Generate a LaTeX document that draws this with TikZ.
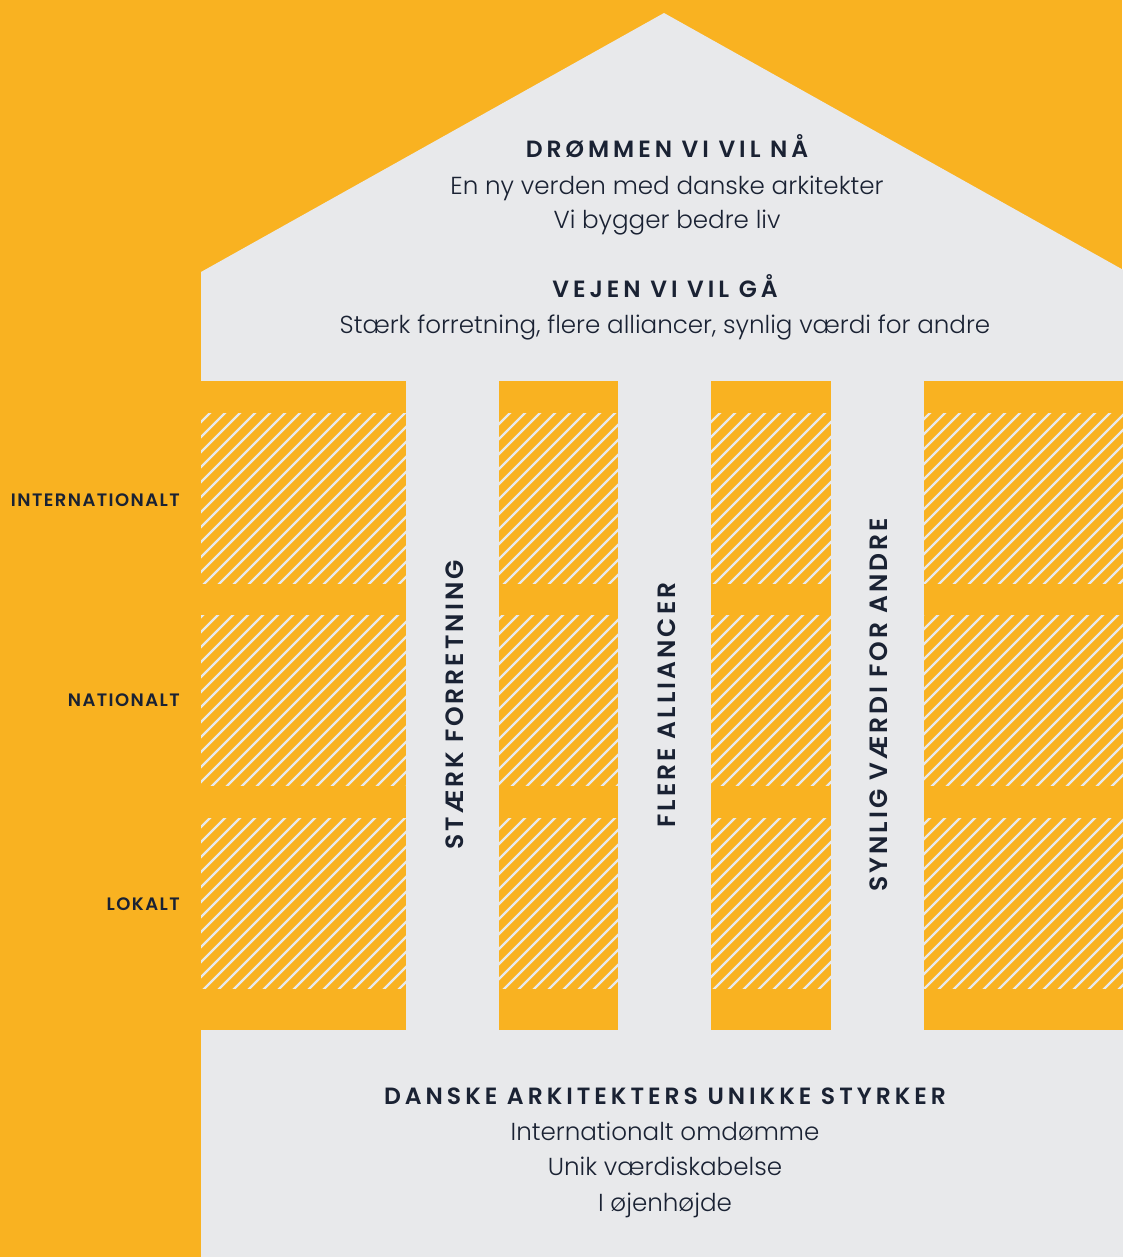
\documentclass[tikz,border=0pt]{standalone}
\usepackage{fontspec}
\setmainfont{Poppins}[UprightFont=* Light, BoldFont=* SemiBold]
\definecolor{orng}{HTML}{F9B221}
\definecolor{lgray}{HTML}{E8E9EB}
\definecolor{ink}{HTML}{1A2233}
\begin{document}
\begin{tikzpicture}[x=1pt,y=-1pt,
  head/.style={text=ink,anchor=base,inner sep=0pt,font=\fontsize{23.5}{27}\selectfont\bfseries\addfontfeatures{LetterSpace=17}},
  body/.style={text=ink,anchor=base,inner sep=0pt,font=\fontsize{24.6}{28}\selectfont},
  side/.style={text=ink,anchor=base east,inner sep=0pt,font=\fontsize{18}{21}\selectfont\bfseries\addfontfeatures{LetterSpace=8}},
  pillar/.style={text=ink,anchor=base,inner sep=0pt,rotate=90,font=\fontsize{25}{28}\selectfont\bfseries\addfontfeatures{LetterSpace=12}},
  block/.style={fill=orng,draw=none},
  hatchline/.style={draw=lgray,line width=2.4pt}]
\useasboundingbox (0,0) rectangle (1122,1257);
\fill[orng] (0,0) rectangle (1122,1257);
% house
\fill[lgray] (201,1257) -- (201,272) -- (664,13) -- (1127,272) -- (1127,1257) -- cycle;
% orange blocks between pillars
\foreach \xa/\xb in {201/406,499/618,711/831,924/1127}{
  \path[block] (\xa,381) rectangle (\xb,1030);
  \foreach \ya/\yb in {413/583,615/785,818/988}{
    \begin{scope}
      \clip (\xa,\ya) rectangle (\xb,\yb);
      \foreach \c in {608,623,...,2123}{
        \draw[hatchline] ({\c-1000},1000) -- ({\c-400},400);
      }
    \end{scope}
  }
}
% top texts
\node[head] (dream) at (667,158) {DRØMMEN VI VIL NÅ};
\node[body] (dream1) at (667,195) {En ny verden med danske arkitekter};
\node[body] (dream2) at (667,229) {Vi bygger bedre liv};
\node[head] (way) at (665,297) {VEJEN VI VIL GÅ};
\node[body] (way1) at (665,333) {Stærk forretning, flere alliancer, synlig værdi for andre};
% side labels
\node[side] (intl) at (180,506) {INTERNATIONALT};
\node[side] (natl) at (180,706) {NATIONALT};
\node[side] (lokal) at (180,910) {LOKALT};
% pillars
\node[pillar] (p1) at (463,705) {STÆRK FORRETNING};
\node[pillar] (p2) at (675,705) {FLERE ALLIANCER};
\node[pillar] (p3) at (887,705) {SYNLIG VÆRDI FOR ANDRE};
% base texts
\node[head] (base) at (665,1104) {DANSKE ARKITEKTERS UNIKKE STYRKER};
\node[body] (base1) at (665,1140) {Internationalt omdømme};
\node[body] (base2) at (665,1175) {Unik værdiskabelse};
\node[body] (base3) at (665,1211) {I øjenhøjde};
\end{tikzpicture}
\end{document}
